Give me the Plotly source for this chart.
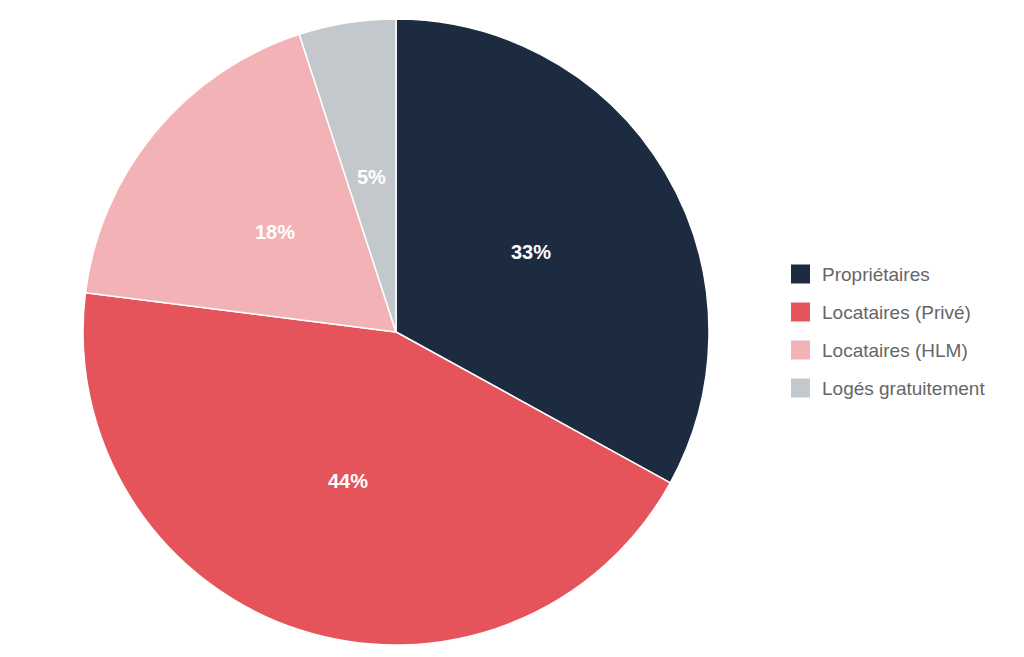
import math
import plotly.graph_objects as go

labels = ["Propriétaires", "Locataires (Privé)", "Locataires (HLM)", "Logés gratuitement"]
values = [33, 44, 18, 5]
colors = ["#1d2b41", "#e4545a", "#f3b2b6", "#c2c8cb"]

W, H = 1024, 657
ml, mr, mt, mb = 83, 315, 19, 12
pw, ph = W - ml - mr, H - mt - mb
R = min(pw, ph) / 2
cx, cy = ml + pw / 2, mt + ph / 2

fig = go.Figure(go.Pie(
    labels=labels, values=values, sort=False, direction="clockwise", rotation=0,
    marker=dict(colors=colors, line=dict(color="white", width=1.5)),
    textinfo="none",
    hoverinfo="label+percent", showlegend=False,
))

def px(x):
    return (x - ml) / pw

def py(y):
    return 1 - (y - mt) / ph

shapes, annotations = [], []

# slice percentage labels at half radius, slice mid-angle
total = sum(values)
cum = 0
for v in values:
    mid = (cum + v / 2) / total * 2 * math.pi
    cum += v
    x = cx + 0.5 * R * math.sin(mid)
    y = cy - 0.5 * R * math.cos(mid)
    annotations.append(dict(x=px(x), y=py(y), xref="paper", yref="paper",
                            text=f"{round(v / total * 100)}%", showarrow=False,
                            xanchor="center", yanchor="middle",
                            font=dict(family="Liberation Sans, Arial", size=20,
                                      color="white", weight="bold")))

y0, dy = 274, 38
for i, (lab, col) in enumerate(zip(labels, colors)):
    yc = y0 + i * dy
    shapes.append(dict(type="rect", xref="paper", yref="paper",
                       x0=px(791), x1=px(810), y0=py(yc - 9.5), y1=py(yc + 9.5),
                       fillcolor=col, line=dict(width=0)))
    annotations.append(dict(x=px(820), y=py(yc), xref="paper", yref="paper",
                            text=lab, showarrow=False, xanchor="left", yanchor="middle",
                            font=dict(family="Liberation Sans, Arial", size=19, color="#666666")))

fig.update_layout(
    width=W, height=H,
    margin=dict(l=ml, r=mr, t=mt, b=mb),
    paper_bgcolor="white", plot_bgcolor="white",
    shapes=shapes, annotations=annotations,
)
fig.write_html("out.html")
